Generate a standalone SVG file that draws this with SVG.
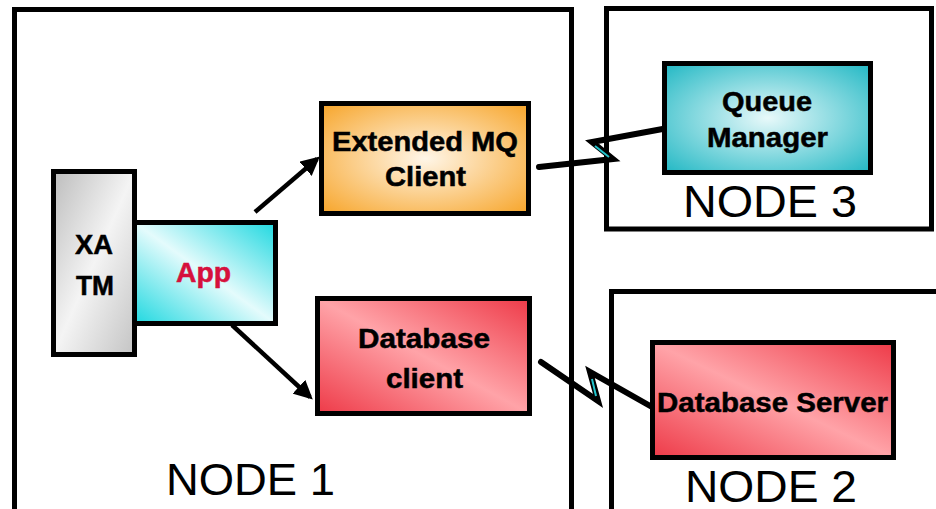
<svg xmlns="http://www.w3.org/2000/svg" width="936" height="509" viewBox="0 0 936 509">
<style>
.frame{fill:none;stroke:#000;stroke-width:5}
.box{stroke:#000;stroke-width:5}
.lbl{font-family:"Liberation Sans",Arial,sans-serif;font-weight:bold;font-size:27px;fill:#000;stroke:#000;stroke-width:0.5;text-anchor:middle}
.node{font-family:"Liberation Sans",Arial,sans-serif;font-size:44px;fill:#000;text-anchor:middle}
.conn{fill:none;stroke:#000;stroke-width:4.5}
.bolt{fill:none;stroke:#000;stroke-width:6;stroke-linejoin:miter;stroke-miterlimit:10;stroke-linecap:round}
.boltc{fill:none;stroke:#22c4cc;stroke-width:2}
</style>
<defs>
<linearGradient id="gGray" x1="0" y1="0" x2="1" y2="1"><stop offset="0" stop-color="#bdbdbd"/><stop offset="0.5" stop-color="#f4f4f4"/><stop offset="1" stop-color="#c4c4c4"/></linearGradient>
<linearGradient id="gCyan" x1="0" y1="1" x2="1" y2="0"><stop offset="0" stop-color="#1fd8e0"/><stop offset="0.5" stop-color="#e4fbfc"/><stop offset="1" stop-color="#1fd8e0"/></linearGradient>
<radialGradient id="gOrange" cx="0.5" cy="0.5" r="0.7"><stop offset="0" stop-color="#fff6e8"/><stop offset="1" stop-color="#f7a52a"/></radialGradient>
<radialGradient id="gTeal" cx="0.5" cy="0.5" r="0.7"><stop offset="0" stop-color="#e8f9fa"/><stop offset="1" stop-color="#22b8c4"/></radialGradient>
<linearGradient id="gRed" x1="0" y1="1" x2="1" y2="0"><stop offset="0" stop-color="#ee3a48"/><stop offset="0.5" stop-color="#ffa3a8"/><stop offset="1" stop-color="#ee3a48"/></linearGradient>
<marker id="ah" viewBox="0 0 10 10" refX="8" refY="5" markerWidth="4.2" markerHeight="4.2" orient="auto"><path d="M0,0 L10,5 L0,10 z" fill="#000"/></marker>
</defs>

<g id="node1">
<rect class="frame" x="14.5" y="9.5" width="557" height="520"/>
<text class="node" x="250.5" y="495" font-size="42" textLength="169" lengthAdjust="spacingAndGlyphs">NODE 1</text>
</g>
<g id="node3">
<rect class="frame" x="606.5" y="8.5" width="325" height="220.5"/>
<text class="node" x="770" y="217" font-size="46" textLength="174" lengthAdjust="spacingAndGlyphs">NODE 3</text>
</g>
<g id="node2">
<rect class="frame" x="611.5" y="291.5" width="335" height="240"/>
<text class="node" x="771" y="501.5" font-size="46" textLength="172" lengthAdjust="spacingAndGlyphs">NODE 2</text>
</g>

<g id="connectors">
<line class="conn" x1="255" y1="212" x2="317" y2="159" marker-end="url(#ah)"/>
<line class="conn" x1="232" y1="325" x2="310" y2="397" marker-end="url(#ah)"/>
<polyline class="bolt" points="539,167 613,159 592,142 668,128"/>
<line class="boltc" x1="609" y1="157" x2="595" y2="146"/>
<polyline class="bolt" points="541,362 598,401 590,372 652,407"/>
<line class="boltc" x1="596" y1="396" x2="592" y2="379"/>
</g>

<g id="xatm">
<rect class="box" x="53.5" y="171.5" width="81" height="183" fill="url(#gGray)"/>
<text class="lbl" x="94" y="254" textLength="38" lengthAdjust="spacingAndGlyphs">XA</text>
<text class="lbl" x="95" y="295" textLength="38" lengthAdjust="spacingAndGlyphs">TM</text>
</g>
<g id="app">
<rect class="box" x="134.5" y="222.5" width="141" height="101" fill="url(#gCyan)"/>
<text class="lbl" x="203.5" y="282" style="fill:#d6103c;stroke:#d6103c" textLength="55" lengthAdjust="spacingAndGlyphs">App</text>
</g>
<g id="mqclient">
<rect class="box" x="321.5" y="103.5" width="207" height="110" fill="url(#gOrange)"/>
<text class="lbl" x="425" y="151" textLength="186" lengthAdjust="spacingAndGlyphs">Extended MQ</text>
<text class="lbl" x="425.5" y="186" textLength="81" lengthAdjust="spacingAndGlyphs">Client</text>
</g>
<g id="queuemanager">
<rect class="box" x="664.5" y="63.5" width="206" height="109" fill="url(#gTeal)"/>
<text class="lbl" x="767" y="111" textLength="90" lengthAdjust="spacingAndGlyphs">Queue</text>
<text class="lbl" x="767.5" y="147" textLength="121" lengthAdjust="spacingAndGlyphs">Manager</text>
</g>
<g id="dbclient">
<rect class="box" x="317.5" y="298.5" width="212" height="115" fill="url(#gRed)"/>
<text class="lbl" x="424" y="348" textLength="132" lengthAdjust="spacingAndGlyphs">Database</text>
<text class="lbl" x="424.5" y="388" textLength="77" lengthAdjust="spacingAndGlyphs">client</text>
</g>
<g id="dbserver">
<rect class="box" x="652.5" y="342.5" width="241" height="115" fill="url(#gRed)"/>
<text class="lbl" x="772.5" y="412" textLength="231" lengthAdjust="spacingAndGlyphs">Database Server</text>
</g>
</svg>
